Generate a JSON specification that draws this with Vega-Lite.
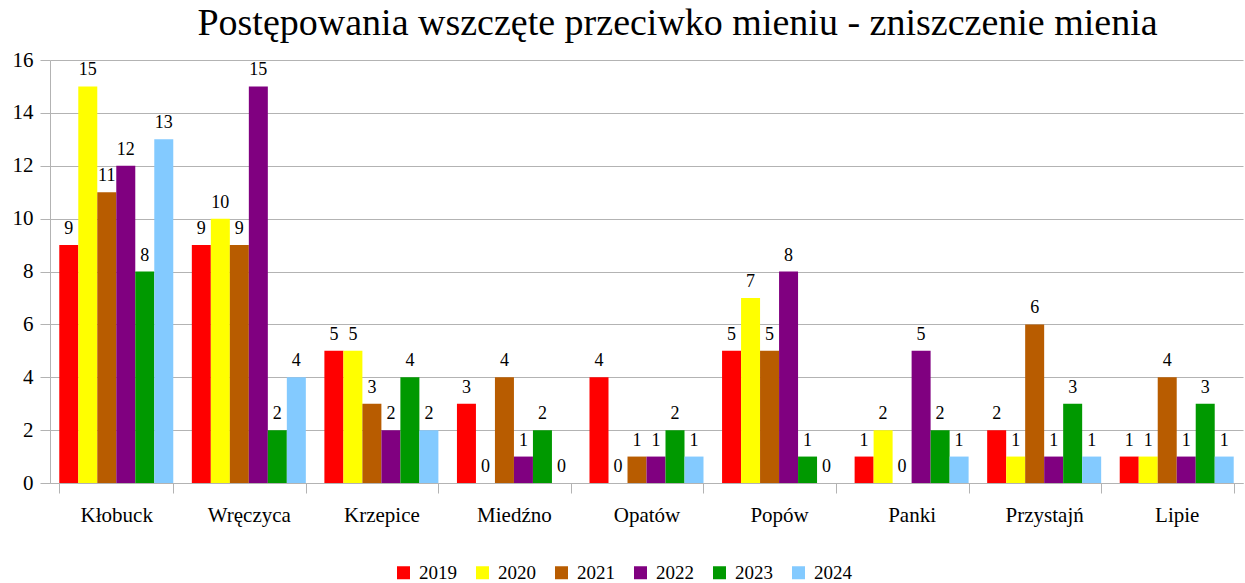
{
  "$schema": "https://vega.github.io/schema/vega-lite/v6.json",
  "autosize": "none",
  "width": 1193,
  "height": 423,
  "padding": {"left": 50, "top": 60, "right": 2, "bottom": 100},
  "background": "white",
  "config": {
    "font": "Times New Roman, Liberation Serif, DejaVu Serif, serif",
    "view": {"stroke": null}
  },
  "title": {
    "text": "Postępowania wszczęte przeciwko mieniu - zniszczenie mienia",
    "font": "Times New Roman, Liberation Serif, DejaVu Serif, serif",
    "fontSize": 38,
    "fontWeight": "normal",
    "color": "black",
    "anchor": "middle",
    "dx": 31,
    "offset": 6
  },
  "data": {
    "values": [
      {"gmina": "Kłobuck", "rok": "2019", "n": 9},
      {"gmina": "Kłobuck", "rok": "2020", "n": 15},
      {"gmina": "Kłobuck", "rok": "2021", "n": 11},
      {"gmina": "Kłobuck", "rok": "2022", "n": 12},
      {"gmina": "Kłobuck", "rok": "2023", "n": 8},
      {"gmina": "Kłobuck", "rok": "2024", "n": 13},
      {"gmina": "Wręczyca", "rok": "2019", "n": 9},
      {"gmina": "Wręczyca", "rok": "2020", "n": 10},
      {"gmina": "Wręczyca", "rok": "2021", "n": 9},
      {"gmina": "Wręczyca", "rok": "2022", "n": 15},
      {"gmina": "Wręczyca", "rok": "2023", "n": 2},
      {"gmina": "Wręczyca", "rok": "2024", "n": 4},
      {"gmina": "Krzepice", "rok": "2019", "n": 5},
      {"gmina": "Krzepice", "rok": "2020", "n": 5},
      {"gmina": "Krzepice", "rok": "2021", "n": 3},
      {"gmina": "Krzepice", "rok": "2022", "n": 2},
      {"gmina": "Krzepice", "rok": "2023", "n": 4},
      {"gmina": "Krzepice", "rok": "2024", "n": 2},
      {"gmina": "Miedźno", "rok": "2019", "n": 3},
      {"gmina": "Miedźno", "rok": "2020", "n": 0},
      {"gmina": "Miedźno", "rok": "2021", "n": 4},
      {"gmina": "Miedźno", "rok": "2022", "n": 1},
      {"gmina": "Miedźno", "rok": "2023", "n": 2},
      {"gmina": "Miedźno", "rok": "2024", "n": 0},
      {"gmina": "Opatów", "rok": "2019", "n": 4},
      {"gmina": "Opatów", "rok": "2020", "n": 0},
      {"gmina": "Opatów", "rok": "2021", "n": 1},
      {"gmina": "Opatów", "rok": "2022", "n": 1},
      {"gmina": "Opatów", "rok": "2023", "n": 2},
      {"gmina": "Opatów", "rok": "2024", "n": 1},
      {"gmina": "Popów", "rok": "2019", "n": 5},
      {"gmina": "Popów", "rok": "2020", "n": 7},
      {"gmina": "Popów", "rok": "2021", "n": 5},
      {"gmina": "Popów", "rok": "2022", "n": 8},
      {"gmina": "Popów", "rok": "2023", "n": 1},
      {"gmina": "Popów", "rok": "2024", "n": 0},
      {"gmina": "Panki", "rok": "2019", "n": 1},
      {"gmina": "Panki", "rok": "2020", "n": 2},
      {"gmina": "Panki", "rok": "2021", "n": 0},
      {"gmina": "Panki", "rok": "2022", "n": 5},
      {"gmina": "Panki", "rok": "2023", "n": 2},
      {"gmina": "Panki", "rok": "2024", "n": 1},
      {"gmina": "Przystajń", "rok": "2019", "n": 2},
      {"gmina": "Przystajń", "rok": "2020", "n": 1},
      {"gmina": "Przystajń", "rok": "2021", "n": 6},
      {"gmina": "Przystajń", "rok": "2022", "n": 1},
      {"gmina": "Przystajń", "rok": "2023", "n": 3},
      {"gmina": "Przystajń", "rok": "2024", "n": 1},
      {"gmina": "Lipie", "rok": "2019", "n": 1},
      {"gmina": "Lipie", "rok": "2020", "n": 1},
      {"gmina": "Lipie", "rok": "2021", "n": 4},
      {"gmina": "Lipie", "rok": "2022", "n": 1},
      {"gmina": "Lipie", "rok": "2023", "n": 3},
      {"gmina": "Lipie", "rok": "2024", "n": 1}
    ]
  },
  "encoding": {
    "x": {
      "field": "gmina",
      "type": "nominal",
      "sort": null,
      "scale": {"paddingInner": 0.14, "paddingOuter": 0.07},
      "axis": {
        "title": null,
        "labelAngle": 0,
        "labelFont": "Times New Roman, Liberation Serif, DejaVu Serif, serif",
        "labelFontSize": 21,
        "labelColor": "black",
        "labelPadding": 11,
        "tickBand": "extent",
        "tickSize": 10,
        "tickColor": "#b3b3b3",
        "domainColor": "#b3b3b3",
        "grid": false
      }
    },
    "xOffset": {"field": "rok", "type": "nominal", "sort": null},
    "y": {
      "field": "n",
      "type": "quantitative",
      "scale": {"domain": [0, 16], "nice": false},
      "axis": {
        "title": null,
        "values": [0, 2, 4, 6, 8, 10, 12, 14, 16],
        "labelFont": "Times New Roman, Liberation Serif, DejaVu Serif, serif",
        "labelFontSize": 21,
        "labelColor": "black",
        "labelPadding": 7,
        "tickSize": 10,
        "tickColor": "#b3b3b3",
        "domainColor": "#b3b3b3",
        "gridColor": "#b3b3b3",
        "grid": true
      }
    }
  },
  "layer": [
    {
      "mark": {"type": "bar"},
      "encoding": {
        "color": {
          "field": "rok",
          "type": "nominal",
          "scale": {
            "domain": ["2019", "2020", "2021", "2022", "2023", "2024"],
            "range": ["#ff0000", "#ffff00", "#b85c00", "#800080", "#009900", "#83caff"]
          },
          "legend": {
            "title": null,
            "orient": "none",
            "direction": "horizontal",
            "columns": 6,
            "legendX": 344,
            "legendY": 503,
            "symbolType": "square",
            "symbolSize": 169,
            "symbolStrokeWidth": 0,
            "labelFont": "Times New Roman, Liberation Serif, DejaVu Serif, serif",
            "labelFontSize": 19,
            "labelColor": "black",
            "columnPadding": 16,
            "labelOffset": 6
          }
        }
      }
    },
    {
      "mark": {"type": "text", "baseline": "bottom", "dy": -7, "font": "Times New Roman, Liberation Serif, DejaVu Serif, serif", "fontSize": 18, "color": "black"},
      "encoding": {
        "text": {"field": "n", "type": "quantitative"}
      }
    }
  ]
}
